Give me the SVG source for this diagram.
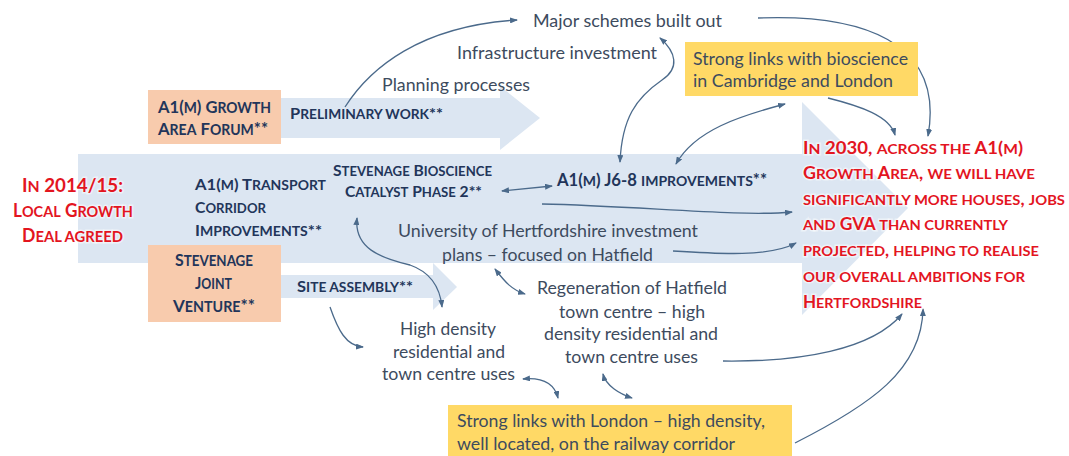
<svg xmlns="http://www.w3.org/2000/svg" width="1069" height="456" viewBox="0 0 1069 456">
<defs>
<style>
.band{fill:#dce6f2}
.orange{fill:#f8cbad}
.yellow{fill:#ffd966}
.t{font-family:Lato,"Liberation Sans",sans-serif}
.sc{font-weight:bold;fill:#22355a;font-size:16px}
.sc tspan.s{font-size:84%}
.red{font-weight:bold;fill:#e3151f;stroke:#ffffff;stroke-width:3;stroke-opacity:0.5;paint-order:stroke}
.red tspan.s{font-size:84%}
.n{fill:#3d4b5e;font-size:17px}
.c{fill:none;stroke:#4b6a8b;stroke-width:1.3}
</style>
<marker id="ah" viewBox="0 0 8 6" refX="7" refY="3" markerWidth="8" markerHeight="6" markerUnits="userSpaceOnUse" orient="auto-start-reverse">
<path d="M0,0 L8,3 L0,6 z" fill="#4b6a8b"/>
</marker>
</defs>
<rect width="1069" height="456" fill="#ffffff"/>

<g id="background-arrows">
<rect class="band" x="78" y="154" width="725" height="109"/>
<polygon class="band" points="802,102 908,208 802,315"/>
<rect class="band" x="281" y="98" width="220" height="40"/>
<polygon class="band" points="500,86 540,118 500,150"/>
<rect class="band" x="281" y="275" width="153" height="23"/>
<polygon class="band" points="433,263 457,287 433,310"/>
</g>

<g id="connectors">
<path class="c" d="M345,107 C370,68 420,26 517,20" marker-end="url(#ah)"/>
<path class="c" d="M758,18 C860,14 945,40 928,136" marker-end="url(#ah)"/>
<path class="c" d="M660,38 C676,52 680,68 662,80 C636,98 622,118 620,162" marker-start="url(#ah)" marker-end="url(#ah)"/>
<path class="c" d="M676,164 C695,130 740,116 785,104" marker-start="url(#ah)" marker-end="url(#ah)"/>
<path class="c" d="M828,98 C860,106 890,116 895,135" marker-end="url(#ah)"/>
<path class="c" d="M502,191 L552,186" marker-start="url(#ah)" marker-end="url(#ah)"/>
<path class="c" d="M542,204 C640,206 740,217 792,212" marker-end="url(#ah)"/>
<path class="c" d="M673,251 C720,254 770,257 796,243" marker-end="url(#ah)"/>
<path class="c" d="M357,218 C354,248 380,258 410,265 C430,272 440,287 442,307" marker-start="url(#ah)" marker-end="url(#ah)"/>
<path class="c" d="M330,307 C338,330 346,346 363,347" marker-end="url(#ah)"/>
<path class="c" d="M495,269 C505,282 512,290 525,294" marker-start="url(#ah)" marker-end="url(#ah)"/>
<path class="c" d="M523,379 C545,377 555,386 558,398" marker-start="url(#ah)" marker-end="url(#ah)"/>
<path class="c" d="M603,374 C606,386 620,394 632,398" marker-start="url(#ah)" marker-end="url(#ah)"/>
<path class="c" d="M723,361 C800,362 872,350 902,314" marker-end="url(#ah)"/>
<path class="c" d="M795,443 C870,405 922,370 923,309" marker-end="url(#ah)"/>
</g>

<g id="start-2014">
<text class="t red" font-size="18" x="22" y="192" textLength="101" lengthAdjust="spacingAndGlyphs">I<tspan class="s">N</tspan> 2014/15:</text>
<text class="t red" font-size="18" x="13" y="217" textLength="120" lengthAdjust="spacingAndGlyphs">L<tspan class="s">OCAL</tspan> G<tspan class="s">ROWTH</tspan></text>
<text class="t red" font-size="18" x="22" y="242" textLength="101" lengthAdjust="spacingAndGlyphs">D<tspan class="s">EAL AGREED</tspan></text>
</g>

<g id="growth-area-forum">
<rect class="orange" x="148" y="90" width="133" height="54"/>
<text class="t sc" style="font-size:17px" x="158" y="113" textLength="113" lengthAdjust="spacingAndGlyphs">A1(<tspan class="s">M</tspan>) G<tspan class="s">ROWTH</tspan></text>
<text class="t sc" style="font-size:17px" x="158" y="135" textLength="110" lengthAdjust="spacingAndGlyphs">A<tspan class="s">REA</tspan> F<tspan class="s">ORUM</tspan>**</text>
</g>

<g id="preliminary-work">
<text class="t sc" x="290" y="119" textLength="153" lengthAdjust="spacingAndGlyphs">P<tspan class="s">RELIMINARY WORK</tspan>**</text>
</g>

<g id="planning-processes">
<text class="t n" x="382" y="91" textLength="148" lengthAdjust="spacingAndGlyphs">Planning processes</text>
</g>

<g id="infrastructure-investment">
<text class="t n" x="457" y="59" textLength="200" lengthAdjust="spacingAndGlyphs">Infrastructure investment</text>
</g>

<g id="major-schemes">
<text class="t n" x="533" y="27" textLength="189" lengthAdjust="spacingAndGlyphs">Major schemes built out</text>
</g>

<g id="bioscience-links">
<rect class="yellow" x="685" y="42" width="233" height="54"/>
<text class="t n" x="693" y="65" textLength="215" lengthAdjust="spacingAndGlyphs">Strong links with bioscience</text>
<text class="t n" x="693" y="87" textLength="200" lengthAdjust="spacingAndGlyphs">in Cambridge and London</text>
</g>

<g id="a1m-transport">
<text class="t sc" x="195" y="190" textLength="131" lengthAdjust="spacingAndGlyphs">A1(<tspan class="s">M</tspan>) T<tspan class="s">RANSPORT</tspan></text>
<text class="t sc" x="195" y="213" textLength="71" lengthAdjust="spacingAndGlyphs">C<tspan class="s">ORRIDOR</tspan></text>
<text class="t sc" x="195" y="236" textLength="127" lengthAdjust="spacingAndGlyphs">I<tspan class="s">MPROVEMENTS</tspan>**</text>
</g>

<g id="stevenage-bioscience">
<text class="t sc" style="font-size:15px" x="333" y="176" textLength="159" lengthAdjust="spacingAndGlyphs">S<tspan class="s">TEVENAGE</tspan> B<tspan class="s">IOSCIENCE</tspan></text>
<text class="t sc" style="font-size:15px" x="345" y="197" textLength="137" lengthAdjust="spacingAndGlyphs">C<tspan class="s">ATALYST</tspan> P<tspan class="s">HASE</tspan> 2**</text>
</g>

<g id="a1m-j6-8">
<text class="t sc" style="font-size:16.5px" x="557" y="186" textLength="210" lengthAdjust="spacingAndGlyphs">A1(<tspan class="s">M</tspan>) J6-8 <tspan class="s">IMPROVEMENTS</tspan>**</text>
</g>

<g id="university-plans">
<text class="t n" x="398" y="237" textLength="300" lengthAdjust="spacingAndGlyphs">University of Hertfordshire investment</text>
<text class="t n" x="442" y="261" textLength="211" lengthAdjust="spacingAndGlyphs">plans – focused on Hatfield</text>
</g>

<g id="stevenage-joint-venture">
<rect class="orange" x="148" y="245" width="133" height="77"/>
<text class="t sc" style="font-size:17px" x="175" y="266" textLength="78" lengthAdjust="spacingAndGlyphs">S<tspan class="s">TEVENAGE</tspan></text>
<text class="t sc" style="font-size:17px" x="195" y="289" textLength="37" lengthAdjust="spacingAndGlyphs">J<tspan class="s">OINT</tspan></text>
<text class="t sc" style="font-size:17px" x="173" y="312" textLength="82" lengthAdjust="spacingAndGlyphs">V<tspan class="s">ENTURE</tspan>**</text>
</g>

<g id="site-assembly">
<text class="t sc" style="font-size:15px" x="297" y="292" textLength="116" lengthAdjust="spacingAndGlyphs">S<tspan class="s">ITE ASSEMBLY</tspan>**</text>
</g>

<g id="high-density">
<text class="t n" x="400" y="335" textLength="96" lengthAdjust="spacingAndGlyphs">High density</text>
<text class="t n" x="393" y="358" textLength="112" lengthAdjust="spacingAndGlyphs">residential and</text>
<text class="t n" x="382" y="380" textLength="133" lengthAdjust="spacingAndGlyphs">town centre uses</text>
</g>

<g id="hatfield-regeneration">
<text class="t n" x="537" y="294" textLength="190" lengthAdjust="spacingAndGlyphs">Regeneration of Hatfield</text>
<text class="t n" x="559" y="318" textLength="146" lengthAdjust="spacingAndGlyphs">town centre – high</text>
<text class="t n" x="544" y="340" textLength="174" lengthAdjust="spacingAndGlyphs">density residential and</text>
<text class="t n" x="565" y="363" textLength="133" lengthAdjust="spacingAndGlyphs">town centre uses</text>
</g>

<g id="london-links">
<rect class="yellow" x="448" y="405" width="344" height="51"/>
<text class="t n" x="457" y="427" textLength="308" lengthAdjust="spacingAndGlyphs">Strong links with London – high density,</text>
<text class="t n" x="457" y="450" textLength="278" lengthAdjust="spacingAndGlyphs">well located, on the railway corridor</text>
</g>

<g id="outcome-2030">
<text class="t red" font-size="16.5" x="803" y="154" textLength="220" lengthAdjust="spacingAndGlyphs">I<tspan class="s">N</tspan> 2030, <tspan class="s">ACROSS THE</tspan> A1(<tspan class="s">M</tspan>)</text>
<text class="t red" font-size="16.5" x="803" y="179" textLength="232" lengthAdjust="spacingAndGlyphs">G<tspan class="s">ROWTH</tspan> A<tspan class="s">REA</tspan>, <tspan class="s">WE WILL HAVE</tspan></text>
<text class="t red" font-size="16.5" x="803" y="205" textLength="262" lengthAdjust="spacingAndGlyphs"><tspan class="s">SIGNIFICANTLY MORE HOUSES</tspan>, <tspan class="s">JOBS</tspan></text>
<text class="t red" font-size="16.5" x="803" y="230" textLength="205" lengthAdjust="spacingAndGlyphs"><tspan class="s">AND</tspan> GVA <tspan class="s">THAN CURRENTLY</tspan></text>
<text class="t red" font-size="16.5" x="803" y="256" textLength="236" lengthAdjust="spacingAndGlyphs"><tspan class="s">PROJECTED</tspan>, <tspan class="s">HELPING TO REALISE</tspan></text>
<text class="t red" font-size="16.5" x="803" y="282" textLength="222" lengthAdjust="spacingAndGlyphs"><tspan class="s">OUR OVERALL AMBITIONS FOR</tspan></text>
<text class="t red" font-size="16.5" x="803" y="308" textLength="119" lengthAdjust="spacingAndGlyphs">H<tspan class="s">ERTFORDSHIRE</tspan></text>
</g>
</svg>
